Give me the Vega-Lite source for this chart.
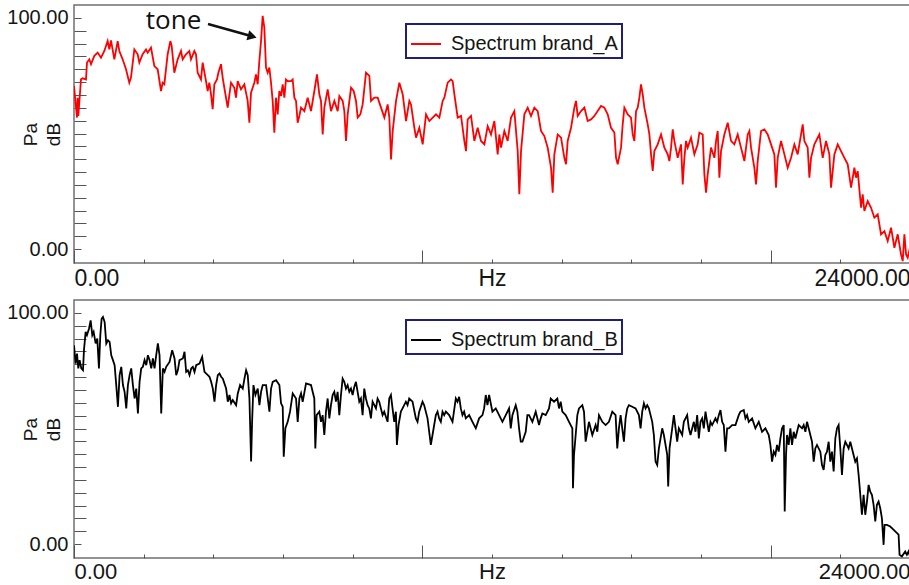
{
  "$schema": "https://vega.github.io/schema/vega-lite/v6.json",
  "background": "white",
  "padding": {"left": 6, "top": 4, "right": 0, "bottom": 0},
  "spacing": 8,
  "config": {
    "view": {"stroke": "#707070", "strokeWidth": 1.5},
    "axis": {"domain": false, "grid": false, "labelFont": "Liberation Sans", "titleFont": "Liberation Sans", "tickColor": "#555555", "tickWidth": 1, "labelColor": "#151515", "titleColor": "#151515", "titleFontWeight": "normal"},
    "legend": {"strokeColor": "#1f1f7a", "strokeWidth": 2, "padding": 4, "labelFont": "Liberation Sans", "labelFontSize": 20, "labelLimit": 400, "labelColor": "#151515", "symbolType": "stroke", "symbolSize": 900, "symbolStrokeWidth": 2, "labelOffset": 9, "fillColor": "white"}
  },
  "datasets": {
    "A": [
      {"hz":0,"db":70.6},{"hz":86,"db":56.9},{"hz":105,"db":65.5},{"hz":124,"db":57.6},{"hz":201,"db":73.5},{"hz":249,"db":73.9},{"hz":344,"db":73.4},{"hz":373,"db":80.7},{"hz":440,"db":82.1},{"hz":488,"db":80.0},{"hz":584,"db":83.6},{"hz":679,"db":85.0},{"hz":775,"db":82.8},{"hz":871,"db":85.7},{"hz":966,"db":90.0},{"hz":1014,"db":86.4},{"hz":1062,"db":90.3},{"hz":1158,"db":82.1},{"hz":1254,"db":90.0},{"hz":1301,"db":85.7},{"hz":1397,"db":82.1},{"hz":1493,"db":77.8},{"hz":1588,"db":72.0},{"hz":1636,"db":74.2},{"hz":1732,"db":86.4},{"hz":1828,"db":84.3},{"hz":1876,"db":80.7},{"hz":1971,"db":84.3},{"hz":2067,"db":86.4},{"hz":2115,"db":85.0},{"hz":2211,"db":87.2},{"hz":2306,"db":79.2},{"hz":2402,"db":77.8},{"hz":2498,"db":68.4},{"hz":2545,"db":72.0},{"hz":2593,"db":71.3},{"hz":2689,"db":84.3},{"hz":2766,"db":90.0},{"hz":2804,"db":87.9},{"hz":2880,"db":76.3},{"hz":2976,"db":82.1},{"hz":3072,"db":85.7},{"hz":3120,"db":82.1},{"hz":3215,"db":84.3},{"hz":3311,"db":85.7},{"hz":3359,"db":82.1},{"hz":3455,"db":85.7},{"hz":3502,"db":84.3},{"hz":3550,"db":76.3},{"hz":3646,"db":73.4},{"hz":3694,"db":80.7},{"hz":3790,"db":72.7},{"hz":3837,"db":68.4},{"hz":3885,"db":72.0},{"hz":3933,"db":67.0},{"hz":3981,"db":60.5},{"hz":4029,"db":71.3},{"hz":4105,"db":73.4},{"hz":4144,"db":76.3},{"hz":4220,"db":80.0},{"hz":4268,"db":74.2},{"hz":4316,"db":69.8},{"hz":4412,"db":61.2},{"hz":4507,"db":72.0},{"hz":4603,"db":69.8},{"hz":4651,"db":65.5},{"hz":4699,"db":72.7},{"hz":4794,"db":69.1},{"hz":4890,"db":71.3},{"hz":4986,"db":64.1},{"hz":5034,"db":54.7},{"hz":5082,"db":67.7},{"hz":5129,"db":69.8},{"hz":5177,"db":72.0},{"hz":5225,"db":75.6},{"hz":5273,"db":71.3},{"hz":5321,"db":81.4},{"hz":5369,"db":90.0},{"hz":5416,"db":100.9},{"hz":5464,"db":95.8},{"hz":5512,"db":78.5},{"hz":5560,"db":76.3},{"hz":5608,"db":78.5},{"hz":5656,"db":72.0},{"hz":5704,"db":64.1},{"hz":5751,"db":50.4},{"hz":5799,"db":65.5},{"hz":5847,"db":58.3},{"hz":5895,"db":68.4},{"hz":5943,"db":66.2},{"hz":5991,"db":71.3},{"hz":6039,"db":65.5},{"hz":6086,"db":73.4},{"hz":6134,"db":72.7},{"hz":6230,"db":72.7},{"hz":6278,"db":73.4},{"hz":6326,"db":65.5},{"hz":6374,"db":64.1},{"hz":6421,"db":54.7},{"hz":6469,"db":57.6},{"hz":6517,"db":61.2},
      {"hz":6613,"db":59.7},{"hz":6708,"db":65.5},{"hz":6804,"db":59.7},{"hz":6900,"db":68.4},{"hz":6976,"db":75.6},{"hz":7043,"db":67.0},{"hz":7091,"db":64.1},{"hz":7139,"db":49.6},{"hz":7187,"db":61.2},{"hz":7283,"db":69.1},{"hz":7378,"db":59.7},{"hz":7474,"db":64.1},{"hz":7570,"db":59.7},{"hz":7618,"db":66.2},{"hz":7713,"db":64.1},{"hz":7761,"db":59.7},{"hz":7809,"db":46.8},{"hz":7857,"db":58.3},{"hz":7953,"db":69.8},{"hz":8029,"db":68.4},{"hz":8096,"db":64.1},{"hz":8144,"db":56.9},{"hz":8220,"db":58.3},{"hz":8287,"db":62.6},{"hz":8383,"db":76.3},{"hz":8479,"db":74.9},{"hz":8527,"db":64.1},{"hz":8622,"db":65.5},{"hz":8718,"db":65.5},{"hz":8814,"db":61.2},{"hz":8910,"db":56.9},{"hz":9005,"db":62.6},{"hz":9053,"db":56.9},{"hz":9101,"db":38.8},{"hz":9149,"db":51.1},{"hz":9245,"db":64.1},{"hz":9340,"db":72.0},{"hz":9436,"db":67.0},{"hz":9532,"db":55.4},{"hz":9627,"db":64.1},{"hz":9675,"db":62.6},{"hz":9771,"db":52.5},{"hz":9819,"db":48.2},{"hz":9914,"db":52.5},{"hz":10010,"db":45.3},{"hz":10106,"db":58.3},{"hz":10201,"db":55.4},{"hz":10297,"db":56.9},{"hz":10393,"db":58.3},{"hz":10489,"db":56.9},{"hz":10584,"db":64.1},{"hz":10632,"db":65.5},{"hz":10728,"db":72.0},{"hz":10824,"db":73.4},{"hz":10871,"db":72.7},{"hz":10919,"db":67.0},{"hz":11015,"db":56.9},{"hz":11111,"db":57.6},{"hz":11206,"db":46.8},{"hz":11254,"db":42.4},{"hz":11302,"db":56.1},{"hz":11398,"db":57.6},{"hz":11493,"db":46.8},{"hz":11589,"db":52.5},{"hz":11685,"db":46.8},{"hz":11781,"db":45.3},{"hz":11876,"db":53.2},{"hz":11972,"db":49.6},{"hz":12068,"db":55.4},{"hz":12163,"db":41.0},{"hz":12211,"db":49.6},{"hz":12259,"db":43.9},{"hz":12355,"db":51.1},{"hz":12450,"db":46.8},{"hz":12546,"db":56.9},{"hz":12642,"db":59.7},{"hz":12738,"db":42.4},{"hz":12785,"db":23.7},{"hz":12833,"db":42.4},{"hz":12929,"db":58.3},{"hz":13025,"db":61.2},{"hz":13120,"db":57.6},{"hz":13216,"db":61.2},{"hz":13312,"db":59.7},{"hz":13407,"db":51.1},{"hz":13503,"db":48.9},{"hz":13599,"db":43.9},{"hz":13695,"db":35.2},{"hz":13742,"db":24.4},{"hz":13790,"db":41.0},{"hz":13886,"db":49.6},{"hz":13982,"db":48.2},{"hz":14077,"db":39.5},{"hz":14125,"db":36.7},{"hz":14173,"db":46.8},{"hz":14269,"db":52.5},{"hz":14364,"db":61.2},{"hz":14412,"db":64.1},{"hz":14460,"db":57.6},{"hz":14556,"db":59.7},{"hz":14652,"db":61.2},{"hz":14747,"db":55.4},{"hz":14843,"db":56.1},{"hz":14939,"db":57.6},{"hz":15034,"db":59.7},{"hz":15130,"db":61.9},{"hz":15226,"db":61.2},{"hz":15321,"db":58.3},{"hz":15417,"db":52.5},{"hz":15513,"db":50.4},{"hz":15561,"db":39.5},{"hz":15609,"db":36.7},{"hz":15704,"db":43.9},
      {"hz":15752,"db":54.0},{"hz":15800,"db":61.2},{"hz":15896,"db":58.3},{"hz":15991,"db":56.9},{"hz":16039,"db":49.6},{"hz":16087,"db":46.8},{"hz":16135,"db":59.7},{"hz":16183,"db":61.2},{"hz":16231,"db":65.5},{"hz":16278,"db":71.3},{"hz":16326,"db":67.0},{"hz":16374,"db":61.2},{"hz":16470,"db":54.0},{"hz":16518,"db":49.6},{"hz":16566,"db":41.0},{"hz":16613,"db":33.8},{"hz":16661,"db":42.4},{"hz":16757,"db":45.3},{"hz":16853,"db":49.6},{"hz":16900,"db":46.8},{"hz":16948,"db":43.9},{"hz":17044,"db":41.0},{"hz":17092,"db":38.1},{"hz":17140,"db":43.9},{"hz":17188,"db":51.8},{"hz":17235,"db":46.8},{"hz":17331,"db":39.5},{"hz":17427,"db":45.3},{"hz":17475,"db":28.0},{"hz":17523,"db":39.5},{"hz":17570,"db":46.8},{"hz":17618,"db":43.9},{"hz":17714,"db":48.2},{"hz":17810,"db":41.0},{"hz":17905,"db":45.3},{"hz":17953,"db":50.4},{"hz":18049,"db":49.6},{"hz":18097,"db":32.3},{"hz":18145,"db":24.4},{"hz":18192,"db":32.3},{"hz":18288,"db":43.9},{"hz":18384,"db":39.5},{"hz":18432,"db":46.8},{"hz":18480,"db":51.1},{"hz":18527,"db":30.9},{"hz":18575,"db":42.4},{"hz":18671,"db":49.6},{"hz":18767,"db":54.7},{"hz":18862,"db":46.8},{"hz":18958,"db":45.3},{"hz":19054,"db":49.6},{"hz":19149,"db":43.9},{"hz":19245,"db":38.1},{"hz":19341,"db":49.6},{"hz":19389,"db":51.1},{"hz":19437,"db":43.9},{"hz":19532,"db":35.2},{"hz":19580,"db":28.0},{"hz":19628,"db":38.1},{"hz":19724,"db":51.1},{"hz":19819,"db":51.8},{"hz":19915,"db":49.6},{"hz":20011,"db":45.3},{"hz":20106,"db":41.0},{"hz":20154,"db":26.6},{"hz":20202,"db":39.5},{"hz":20298,"db":46.8},{"hz":20394,"db":41.0},{"hz":20489,"db":35.2},{"hz":20585,"db":39.5},{"hz":20681,"db":45.3},{"hz":20776,"db":41.0},{"hz":20872,"db":49.6},{"hz":20920,"db":54.0},{"hz":20968,"db":46.8},{"hz":21063,"db":43.9},{"hz":21111,"db":30.9},{"hz":21159,"db":39.5},{"hz":21255,"db":45.3},{"hz":21398,"db":49.6},{"hz":21494,"db":39.5},{"hz":21590,"db":46.8},{"hz":21685,"db":41.0},{"hz":21733,"db":26.6},{"hz":21829,"db":41.0},{"hz":21925,"db":45.3},{"hz":22020,"db":42.4},{"hz":22116,"db":39.5},{"hz":22212,"db":36.7},{"hz":22308,"db":26.6},{"hz":22403,"db":35.2},{"hz":22451,"db":30.9},{"hz":22499,"db":33.8},{"hz":22595,"db":17.9},{"hz":22642,"db":23.7},{"hz":22690,"db":16.5},{"hz":22786,"db":20.8},{"hz":22882,"db":17.9},{"hz":22977,"db":13.6},{"hz":23073,"db":15.0},{"hz":23169,"db":6.4},{"hz":23265,"db":7.8},{"hz":23360,"db":3.5},{"hz":23456,"db":9.3},{"hz":23552,"db":0.6},{"hz":23647,"db":6.4},{"hz":23743,"db":-2.3},{"hz":23791,"db":-5.2},{"hz":23839,"db":6.4},{"hz":23887,"db":-2.3},{"hz":23934,"db":-3.7},{"hz":24000,"db":0.6}
    ],
    "B": [
      {"hz":0,"db":86.0},{"hz":47,"db":78.1},{"hz":86,"db":82.4},{"hz":124,"db":76.0},{"hz":162,"db":79.6},{"hz":210,"db":76.0},{"hz":258,"db":75.2},{"hz":286,"db":83.9},{"hz":334,"db":91.8},{"hz":372,"db":90.4},{"hz":430,"db":93.2},{"hz":478,"db":96.8},{"hz":525,"db":90.4},{"hz":564,"db":91.8},{"hz":621,"db":86.8},{"hz":669,"db":88.9},{"hz":716,"db":76.0},{"hz":755,"db":90.4},{"hz":793,"db":97.5},{"hz":831,"db":98.3},{"hz":879,"db":96.1},{"hz":927,"db":86.8},{"hz":975,"db":88.2},{"hz":1022,"db":87.5},{"hz":1070,"db":81.7},{"hz":1118,"db":79.6},{"hz":1166,"db":77.4},{"hz":1213,"db":68.8},{"hz":1261,"db":59.4},{"hz":1309,"db":73.1},{"hz":1357,"db":76.7},{"hz":1405,"db":68.8},{"hz":1452,"db":65.9},{"hz":1500,"db":58.7},{"hz":1548,"db":68.8},{"hz":1596,"db":73.1},{"hz":1643,"db":76.0},{"hz":1691,"db":68.8},{"hz":1739,"db":63.0},{"hz":1787,"db":67.3},{"hz":1835,"db":56.5},{"hz":1882,"db":70.2},{"hz":1930,"db":76.0},{"hz":1978,"db":76.7},{"hz":2026,"db":79.6},{"hz":2074,"db":77.4},{"hz":2121,"db":81.7},{"hz":2169,"db":79.6},{"hz":2217,"db":76.0},{"hz":2265,"db":80.3},{"hz":2312,"db":76.0},{"hz":2360,"db":81.7},{"hz":2408,"db":86.8},{"hz":2456,"db":81.7},{"hz":2504,"db":56.5},{"hz":2551,"db":76.0},{"hz":2599,"db":74.5},{"hz":2647,"db":76.7},{"hz":2743,"db":78.8},{"hz":2819,"db":83.9},{"hz":2886,"db":80.3},{"hz":2934,"db":73.1},{"hz":2981,"db":75.2},{"hz":3029,"db":79.6},{"hz":3125,"db":80.3},{"hz":3173,"db":83.2},{"hz":3220,"db":74.5},{"hz":3268,"db":75.2},{"hz":3316,"db":73.1},{"hz":3364,"db":76.0},{"hz":3411,"db":76.7},{"hz":3459,"db":74.5},{"hz":3507,"db":77.4},{"hz":3603,"db":78.1},{"hz":3679,"db":81.0},{"hz":3746,"db":74.5},{"hz":3842,"db":73.1},{"hz":3889,"db":72.4},{"hz":3937,"db":70.2},{"hz":3985,"db":67.3},{"hz":4033,"db":61.6},{"hz":4080,"db":68.8},{"hz":4128,"db":73.1},{"hz":4176,"db":73.8},{"hz":4224,"db":72.4},{"hz":4272,"db":71.6},{"hz":4367,"db":67.3},{"hz":4415,"db":61.6},{"hz":4463,"db":64.5},{"hz":4511,"db":60.9},{"hz":4558,"db":62.3},{"hz":4654,"db":60.1},{"hz":4702,"db":65.2},{"hz":4768,"db":68.8},{"hz":4845,"db":67.3},{"hz":4893,"db":71.6},{"hz":4941,"db":75.2},{"hz":4988,"db":73.1},{"hz":5036,"db":63.0},{"hz":5084,"db":35.7},{"hz":5113,"db":52.9},{"hz":5151,"db":68.8},{"hz":5208,"db":64.5},{"hz":5275,"db":67.3},{"hz":5323,"db":60.1},{"hz":5371,"db":65.9},{"hz":5418,"db":68.8},{"hz":5514,"db":68.8},{"hz":5610,"db":57.3},{"hz":5657,"db":67.3},{"hz":5705,"db":70.2},{"hz":5801,"db":70.9},{"hz":5896,"db":68.8},{"hz":5944,"db":60.9},{"hz":5992,"db":59.4},{"hz":6021,"db":37.8},{"hz":6068,"db":50.1},{"hz":6135,"db":52.9},{"hz":6202,"db":57.3},{"hz":6279,"db":65.2},{"hz":6374,"db":63.0},{"hz":6422,"db":52.9},{"hz":6470,"db":63.0},{"hz":6518,"db":65.2},{"hz":6565,"db":61.6},
      {"hz":6661,"db":69.5},{"hz":6804,"db":68.8},{"hz":6899,"db":63.0},{"hz":6928,"db":41.4},{"hz":6966,"db":55.8},{"hz":7043,"db":57.3},{"hz":7091,"db":52.9},{"hz":7138,"db":55.8},{"hz":7186,"db":47.2},{"hz":7234,"db":57.3},{"hz":7282,"db":63.0},{"hz":7330,"db":54.4},{"hz":7377,"db":60.1},{"hz":7425,"db":64.5},{"hz":7473,"db":65.9},{"hz":7521,"db":61.6},{"hz":7568,"db":65.9},{"hz":7616,"db":55.8},{"hz":7664,"db":64.5},{"hz":7712,"db":71.6},{"hz":7760,"db":70.2},{"hz":7807,"db":67.3},{"hz":7855,"db":68.8},{"hz":7903,"db":65.9},{"hz":7951,"db":67.3},{"hz":7999,"db":64.5},{"hz":8046,"db":68.0},{"hz":8094,"db":70.2},{"hz":8142,"db":65.9},{"hz":8190,"db":61.6},{"hz":8237,"db":63.0},{"hz":8285,"db":55.8},{"hz":8333,"db":67.3},{"hz":8381,"db":63.0},{"hz":8429,"db":60.1},{"hz":8476,"db":58.7},{"hz":8524,"db":54.4},{"hz":8572,"db":61.6},{"hz":8668,"db":58.7},{"hz":8715,"db":63.0},{"hz":8763,"db":61.6},{"hz":8859,"db":55.8},{"hz":8906,"db":57.3},{"hz":9002,"db":52.9},{"hz":9050,"db":63.0},{"hz":9098,"db":64.5},{"hz":9145,"db":58.7},{"hz":9193,"db":52.9},{"hz":9241,"db":57.3},{"hz":9270,"db":42.9},{"hz":9317,"db":51.5},{"hz":9384,"db":57.3},{"hz":9432,"db":58.7},{"hz":9528,"db":61.6},{"hz":9575,"db":60.1},{"hz":9623,"db":63.0},{"hz":9719,"db":61.6},{"hz":9814,"db":54.4},{"hz":9862,"db":52.9},{"hz":9910,"db":57.3},{"hz":10006,"db":61.6},{"hz":10053,"db":60.1},{"hz":10149,"db":54.4},{"hz":10244,"db":42.9},{"hz":10292,"db":47.2},{"hz":10388,"db":55.8},{"hz":10436,"db":57.3},{"hz":10483,"db":54.4},{"hz":10531,"db":52.9},{"hz":10579,"db":57.3},{"hz":10627,"db":55.8},{"hz":10675,"db":57.3},{"hz":10770,"db":55.8},{"hz":10866,"db":52.9},{"hz":10961,"db":63.0},{"hz":11009,"db":61.6},{"hz":11057,"db":63.7},{"hz":11105,"db":58.7},{"hz":11152,"db":55.8},{"hz":11200,"db":57.3},{"hz":11248,"db":54.4},{"hz":11344,"db":55.8},{"hz":11439,"db":52.9},{"hz":11535,"db":50.1},{"hz":11630,"db":54.4},{"hz":11726,"db":55.8},{"hz":11774,"db":58.7},{"hz":11821,"db":64.5},{"hz":11869,"db":60.1},{"hz":11917,"db":64.5},{"hz":12012,"db":57.3},{"hz":12108,"db":58.7},{"hz":12204,"db":55.8},{"hz":12299,"db":52.9},{"hz":12395,"db":55.8},{"hz":12490,"db":58.7},{"hz":12538,"db":50.1},{"hz":12586,"db":55.8},{"hz":12681,"db":60.1},{"hz":12729,"db":57.3},{"hz":12777,"db":50.1},{"hz":12825,"db":44.3},{"hz":12873,"db":44.3},{"hz":12968,"db":48.6},{"hz":13016,"db":55.8},{"hz":13064,"db":55.8},{"hz":13159,"db":52.9},{"hz":13255,"db":57.3},{"hz":13350,"db":51.5},{"hz":13398,"db":54.4},{"hz":13446,"db":56.5},{"hz":13542,"db":55.8},{"hz":13637,"db":58.7},{"hz":13685,"db":63.0},{"hz":13781,"db":61.6},{"hz":13876,"db":63.0},{"hz":13924,"db":58.7},{"hz":13972,"db":61.6},{"hz":14019,"db":57.3},{"hz":14115,"db":55.8},{"hz":14211,"db":52.9},{"hz":14306,"db":50.1},{"hz":14325,"db":24.2},{"hz":14354,"db":38.6},{"hz":14402,"db":47.2},{"hz":14450,"db":55.8},{"hz":14497,"db":58.7},{"hz":14593,"db":60.1},{"hz":14641,"db":57.3},{"hz":14688,"db":44.3},{"hz":14736,"db":48.6},{"hz":14784,"db":52.9},{"hz":14880,"db":47.2},{"hz":14975,"db":51.5},{"hz":15023,"db":48.6},{"hz":15071,"db":55.8},{"hz":15166,"db":52.9},
      {"hz":15262,"db":51.5},{"hz":15357,"db":52.9},{"hz":15453,"db":57.3},{"hz":15548,"db":55.8},{"hz":15596,"db":41.4},{"hz":15644,"db":50.1},{"hz":15692,"db":55.8},{"hz":15787,"db":44.3},{"hz":15835,"db":54.4},{"hz":15883,"db":58.7},{"hz":15931,"db":60.1},{"hz":16026,"db":59.4},{"hz":16122,"db":58.7},{"hz":16217,"db":55.8},{"hz":16265,"db":50.1},{"hz":16313,"db":57.3},{"hz":16361,"db":60.9},{"hz":16408,"db":58.7},{"hz":16456,"db":60.1},{"hz":16504,"db":58.7},{"hz":16552,"db":55.8},{"hz":16600,"db":52.9},{"hz":16647,"db":47.2},{"hz":16695,"db":35.7},{"hz":16743,"db":34.2},{"hz":16791,"db":41.4},{"hz":16886,"db":50.1},{"hz":16934,"db":47.2},{"hz":17030,"db":38.6},{"hz":17058,"db":24.9},{"hz":17097,"db":41.4},{"hz":17173,"db":50.1},{"hz":17221,"db":55.8},{"hz":17269,"db":50.1},{"hz":17316,"db":44.3},{"hz":17364,"db":50.1},{"hz":17460,"db":47.2},{"hz":17507,"db":52.9},{"hz":17603,"db":55.8},{"hz":17651,"db":50.1},{"hz":17699,"db":47.2},{"hz":17794,"db":52.9},{"hz":17842,"db":48.6},{"hz":17890,"db":55.8},{"hz":17938,"db":45.7},{"hz":17985,"db":52.9},{"hz":18033,"db":54.4},{"hz":18081,"db":50.1},{"hz":18129,"db":57.3},{"hz":18176,"db":52.9},{"hz":18224,"db":48.6},{"hz":18272,"db":52.9},{"hz":18320,"db":51.5},{"hz":18415,"db":54.4},{"hz":18463,"db":52.9},{"hz":18511,"db":55.8},{"hz":18559,"db":58.0},{"hz":18607,"db":52.9},{"hz":18654,"db":51.5},{"hz":18702,"db":40.0},{"hz":18750,"db":50.1},{"hz":18798,"db":50.1},{"hz":18893,"db":51.5},{"hz":18989,"db":51.5},{"hz":19084,"db":55.8},{"hz":19132,"db":57.3},{"hz":19228,"db":58.0},{"hz":19276,"db":54.4},{"hz":19323,"db":55.8},{"hz":19371,"db":52.9},{"hz":19467,"db":54.4},{"hz":19562,"db":50.1},{"hz":19658,"db":52.9},{"hz":19753,"db":48.6},{"hz":19849,"db":50.1},{"hz":19945,"db":47.2},{"hz":19992,"db":42.9},{"hz":20040,"db":35.7},{"hz":20088,"db":40.0},{"hz":20136,"db":38.6},{"hz":20183,"db":42.9},{"hz":20231,"db":40.0},{"hz":20279,"db":45.7},{"hz":20327,"db":50.1},{"hz":20375,"db":51.5},{"hz":20403,"db":14.1},{"hz":20441,"db":38.6},{"hz":20470,"db":47.2},{"hz":20518,"db":42.9},{"hz":20566,"db":50.1},{"hz":20613,"db":42.9},{"hz":20661,"db":48.6},{"hz":20709,"db":45.7},{"hz":20805,"db":51.5},{"hz":20900,"db":50.1},{"hz":20948,"db":51.5},{"hz":20996,"db":48.6},{"hz":21044,"db":52.9},{"hz":21091,"db":50.1},{"hz":21187,"db":44.3},{"hz":21235,"db":35.7},{"hz":21282,"db":41.4},{"hz":21330,"db":42.9},{"hz":21426,"db":40.0},{"hz":21474,"db":34.2},{"hz":21521,"db":32.1},{"hz":21569,"db":38.6},{"hz":21617,"db":40.0},{"hz":21665,"db":44.3},{"hz":21712,"db":35.7},{"hz":21760,"db":40.0},{"hz":21808,"db":31.4},{"hz":21856,"db":45.7},{"hz":21904,"db":50.1},{"hz":21951,"db":51.5},{"hz":21999,"db":41.4},{"hz":22047,"db":29.9},{"hz":22095,"db":41.4},{"hz":22143,"db":44.3},{"hz":22190,"db":42.9},{"hz":22238,"db":41.4},{"hz":22286,"db":44.3},{"hz":22334,"db":41.4},{"hz":22429,"db":35.7},{"hz":22477,"db":37.1},{"hz":22525,"db":29.9},{"hz":22573,"db":21.3},{"hz":22620,"db":12.7},{"hz":22668,"db":21.3},{"hz":22716,"db":12.7},{"hz":22764,"db":18.4},{"hz":22812,"db":25.6},{"hz":22859,"db":22.7},{"hz":22907,"db":21.3},{"hz":22955,"db":17.0},{"hz":23003,"db":9.8},{"hz":23050,"db":17.0},{"hz":23098,"db":18.4},{"hz":23146,"db":15.5},{"hz":23194,"db":11.2},{"hz":23242,"db":-0.3},{"hz":23270,"db":8.3},{"hz":23337,"db":8.3},{"hz":23433,"db":7.6},{"hz":23481,"db":6.9},{"hz":23576,"db":5.5},{"hz":23672,"db":4.1},{"hz":23700,"db":-4.6},{"hz":23767,"db":-5.3},{"hz":23863,"db":-3.2},{"hz":23911,"db":-4.6},{"hz":23958,"db":-3.2},{"hz":24000,"db":-5.3}
    ],
    "frame": [{"hz": 0, "db": 0}, {"hz": 24000, "db": 100}],
    "note": [{"hz": 2857, "db": 95.2, "label": "tone"}],
    "arrow": [{"hz": 3847, "db": 97.4, "hz2": 5082, "db2": 92.2}],
    "head": [{"hz": 5116, "db": 92.0}]
  },
  "resolve": {"scale": {"x": "independent", "y": "independent", "color": "independent"}, "legend": {"color": "independent"}},
  "vconcat": [
    {
      "width": 836,
      "height": 258,
      "resolve": {"axis": {"x": "independent", "y": "independent"}},
      "layer": [
        {
          "data": {"name": "A"},
          "mark": {"type": "line", "strokeWidth": 1.8, "clip": true},
          "encoding": {
            "x": {"field": "hz", "type": "quantitative", "scale": {"domain": [0, 24000], "nice": false, "zero": false}, "axis": {"orient": "bottom", "values": [2000, 4000, 6000, 8000, 12000, 14000, 16000, 18000, 22000], "labels": false, "tickSize": -4, "title": null}},
            "y": {"field": "db", "type": "quantitative", "scale": {"domain": [-6, 105.6], "nice": false, "zero": false}, "axis": {"orient": "left", "values": [5.556, 11.111, 16.667, 22.222, 27.778, 33.333, 38.889, 44.444, 50, 55.556, 61.111, 66.667, 72.222, 77.778, 83.333, 88.889, 94.444], "labels": false, "tickSize": -12, "title": null}},
            "color": {"datum": "Spectrum brand_A", "type": "nominal", "scale": {"range": ["#ff0000"]}, "legend": {"orient": "none", "legendX": 332, "legendY": 19, "title": null}}
          }
        },
        {
          "data": {"name": "frame"},
          "mark": {"type": "point", "opacity": 0},
          "encoding": {
            "x": {"field": "hz", "type": "quantitative", "axis": {"orient": "bottom", "values": [0, 10000, 20000], "labels": false, "tickSize": -13, "title": null}},
            "y": {"field": "db", "type": "quantitative", "axis": {"orient": "left", "values": [0, 100], "labels": false, "tickSize": -7, "title": null}}
          }
        },
        {
          "data": {"name": "frame"},
          "mark": {"type": "point", "opacity": 0},
          "encoding": {
            "x": {"field": "hz", "type": "quantitative", "axis": {"orient": "bottom", "values": [0, 24000], "ticks": false, "tickSize": 0, "format": ".2f", "labelFlush": true, "labelFontSize": 23, "labelPadding": 4, "title": "Hz", "titleFontSize": 23, "titleY": 4, "titleBaseline": "top"}},
            "y": {"field": "db", "type": "quantitative", "axis": {"orient": "left", "values": [0, 100], "ticks": false, "tickSize": 0, "format": ".2f", "labelFontSize": 20, "labelPadding": 6, "title": ["Pa", "dB"], "titleFontSize": 19, "titleX": -38, "titleBaseline": "alphabetic", "titleLineHeight": 23, "titleAngle": 270}}
          }
        },
        {
          "data": {"name": "arrow"},
          "mark": {"type": "rule", "color": "#111111", "strokeWidth": 2.5},
          "encoding": {
            "x": {"field": "hz", "type": "quantitative", "axis": null},
            "y": {"field": "db", "type": "quantitative", "axis": null},
            "x2": {"field": "hz2"},
            "y2": {"field": "db2"}
          }
        },
        {
          "data": {"name": "head"},
          "mark": {"type": "point", "shape": "triangle-right", "filled": true, "color": "#111111", "size": 110, "angle": 16, "opacity": 1},
          "encoding": {
            "x": {"field": "hz", "type": "quantitative", "axis": null},
            "y": {"field": "db", "type": "quantitative", "axis": null}
          }
        },
        {
          "data": {"name": "note"},
          "mark": {"type": "text", "font": "Open Sans", "fontSize": 26, "color": "#111111", "align": "center", "baseline": "alphabetic"},
          "encoding": {
            "x": {"field": "hz", "type": "quantitative", "axis": null},
            "y": {"field": "db", "type": "quantitative", "axis": null},
            "text": {"field": "label"}
          }
        }
      ]
    },
    {
      "width": 836,
      "height": 258,
      "resolve": {"axis": {"x": "independent", "y": "independent"}},
      "layer": [
        {
          "data": {"name": "B"},
          "mark": {"type": "line", "strokeWidth": 1.8, "clip": true},
          "encoding": {
            "x": {"field": "hz", "type": "quantitative", "scale": {"domain": [0, 24000], "nice": false, "zero": false}, "axis": {"orient": "bottom", "values": [2000, 4000, 6000, 8000, 12000, 14000, 16000, 18000, 22000], "labels": false, "tickSize": -4, "title": null}},
            "y": {"field": "db", "type": "quantitative", "scale": {"domain": [-6, 105.6], "nice": false, "zero": false}, "axis": {"orient": "left", "values": [5.556, 11.111, 16.667, 22.222, 27.778, 33.333, 38.889, 44.444, 50, 55.556, 61.111, 66.667, 72.222, 77.778, 83.333, 88.889, 94.444], "labels": false, "tickSize": -12, "title": null}},
            "color": {"datum": "Spectrum brand_B", "type": "nominal", "scale": {"range": ["#000000"]}, "legend": {"orient": "none", "legendX": 332, "legendY": 20, "title": null}}
          }
        },
        {
          "data": {"name": "frame"},
          "mark": {"type": "point", "opacity": 0},
          "encoding": {
            "x": {"field": "hz", "type": "quantitative", "axis": {"orient": "bottom", "values": [0, 10000, 20000], "labels": false, "tickSize": -13, "title": null}},
            "y": {"field": "db", "type": "quantitative", "axis": {"orient": "left", "values": [0, 100], "labels": false, "tickSize": -7, "title": null}}
          }
        },
        {
          "data": {"name": "frame"},
          "mark": {"type": "point", "opacity": 0},
          "encoding": {
            "x": {"field": "hz", "type": "quantitative", "axis": {"orient": "bottom", "values": [0, 24000], "ticks": false, "tickSize": 0, "format": ".2f", "labelFlush": true, "labelFontSize": 22, "labelPadding": 3, "title": "Hz", "titleFontSize": 22, "titleY": 3, "titleBaseline": "top"}},
            "y": {"field": "db", "type": "quantitative", "axis": {"orient": "left", "values": [0, 100], "ticks": false, "tickSize": 0, "format": ".2f", "labelFontSize": 20, "labelPadding": 6, "title": ["Pa", "dB"], "titleFontSize": 19, "titleX": -38, "titleBaseline": "alphabetic", "titleLineHeight": 23, "titleAngle": 270}}
          }
        }
      ]
    }
  ]
}
